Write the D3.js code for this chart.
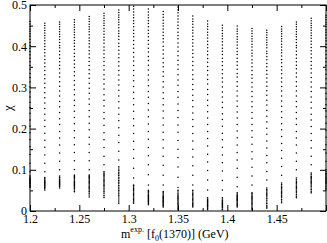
<!DOCTYPE html>
<html>
<head>
<meta charset="utf-8">
<script src="https://cdn.jsdelivr.net/npm/d3@7"></script>
<style>
  html, body { margin: 0; padding: 0; background: #fff; }
  svg { display: block; }
  text { font-family: "Liberation Serif", "DejaVu Serif", serif; fill: #000; }
</style>
</head>
<body>
<svg id="chart" width="327" height="243"></svg>
<script>
// mass grid of the scan (GeV)
var masses = [1.200, 1.215, 1.230, 1.245, 1.260, 1.275, 1.290, 1.305, 1.320, 1.335, 1.350,
              1.365, 1.380, 1.395, 1.410, 1.425, 1.440, 1.455, 1.470, 1.485, 1.500];

// chi values (x1000) of the spread-out points of every column
var sparseChi = [
  '95 116 137 156 173 190 206 221 237 251 264 277 289 301 313 324 334 344 353 362 371 379 387 395 402 409 417 424 430 436 442 448 454 460',
  '95 116 136 155 172 189 205 220 235 249 262 275 287 299 310 321 331 341 350 359 368 376 384 392 399 406 413 420 426 432 438 444 450 456',
  '100 121 141 160 177 193 210 224 239 253 266 279 291 303 314 325 335 345 354 362 371 379 388 396 402 409 416 423 429 435 441 447 453 459',
  '101 122 142 161 178 195 212 227 242 256 269 282 294 306 317 328 338 348 357 366 375 383 392 400 407 414 421 428 434 440 446 452 458 464',
  '100 122 142 162 179 197 213 229 244 259 272 286 298 310 322 333 343 353 363 372 381 389 398 406 413 420 428 435 441 447 453 460 466 472',
  '112 133 154 173 190 208 224 239 255 269 282 296 308 320 331 342 353 363 372 381 390 398 407 415 422 429 436 443 450 456 462 468 474 480',
  '124 145 166 184 202 219 235 250 265 279 293 306 318 330 341 352 362 372 381 390 399 407 416 424 431 437 445 452 458 464 470 476 482 488',
  '80 104 128 149 169 188 207 224 242 258 273 288 302 316 329 341 353 364 374 385 395 404 414 423 431 439 447 455 462 469 476 483 490 497',
  '63 88 112 134 154 174 193 211 229 245 261 276 290 304 318 330 342 354 365 375 386 395 405 414 423 431 439 447 455 462 469 476 483 490',
  '63 87 111 133 153 173 191 209 226 243 258 273 287 301 314 327 338 350 360 371 381 391 400 410 418 426 434 442 449 456 463 470 477 484',
  '57 82 107 130 150 171 191 209 227 244 260 276 290 305 318 331 344 355 366 377 388 398 408 418 426 434 443 451 459 466 473 481 488 495',
  '63 87 110 131 150 170 188 205 222 238 253 268 281 295 307 320 331 342 353 363 373 382 391 400 408 416 424 432 439 446 453 460 466 473',
  '51 75 98 119 138 158 176 193 210 226 241 256 269 283 295 308 319 330 341 351 361 370 379 388 396 404 412 420 427 434 441 448 454 461',
  '51 74 97 117 136 155 173 189 206 222 236 251 264 277 289 301 313 323 333 343 353 362 371 380 388 395 403 411 418 425 431 438 444 451',
  '59 82 104 124 142 160 178 194 210 226 240 254 267 279 291 303 314 325 334 344 354 362 371 380 387 395 403 410 417 423 430 436 442 449',
  '63 85 106 126 144 162 179 195 210 225 239 253 265 278 290 301 312 322 331 341 350 359 367 376 383 390 398 405 412 418 424 431 437 443',
  '75 96 117 135 153 170 186 201 216 230 244 257 269 281 292 303 313 323 332 341 350 358 367 375 382 388 396 403 409 415 421 427 433 439',
  '87 108 128 147 164 181 197 212 227 241 254 267 279 291 302 313 323 333 342 351 360 368 376 384 391 398 405 412 418 424 430 436 442 448',
  '100 121 141 160 177 193 210 224 239 253 266 279 291 303 314 325 335 345 354 362 371 379 388 396 402 409 416 423 429 435 441 447 453 459',
  '112 133 153 171 188 205 221 235 250 264 277 290 301 313 324 335 345 354 363 372 381 389 397 405 412 419 426 432 439 445 450 456 462 468',
  '120 141 161 179 196 213 229 243 258 272 285 298 309 321 332 343 353 362 371 380 389 397 405 413 420 427 434 440 447 453 458 464 470 475'
];

// chi values (x1000) of the dense bunch at the bottom of every column
var clusterChi = [
  '57 60 62 65 67 69 71 73 75 77 79 82 85',
  '51 54 57 59 61 63 65 67 69 71 73 75 78 81',
  '56 59 61 63 65 67 69 71 73 75 77 80 82 85',
  '47 51 54 57 60 62 64 66 68 70 72 75 78 81 84 87',
  '34 39 43 47 51 54 57 60 63 66 69 72 75 78 81 84 87',
  '33 38 43 47 51 55 59 62 65 68 71 74 77 80 83 86 89 92 95',
  '19 24 29 34 38 42 46 50 54 58 62 66 70 74 78 82 86 90 94 98 102 107',
  '19 22 25 28 31 34 37 40 43 46 49 52 55 58 61 63',
  '15 18 21 23 25 27 29 31 33 35 37 39 41 44 47 50',
  '10 13 16 19 21 23 25 27 29 31 33 35 38 41 44 47',
  '3 6 9 12 15 18 21 24 27 30 33 36 39 42 46 50',
  '10 13 16 19 22 25 28 31 34 37 40 43 46 50',
  '3 6 9 11 13 15 17 19 21 23 25 27 29 32',
  '3 5 8 10 12 14 16 18 20 22 24 26 29 32',
  '10 13 16 19 22 24 26 28 30 32 34 36 38 41 44',
  '3 6 9 12 15 18 21 24 27 30 33 36 39 42 44',
  '7 10 14 18 22 26 30 34 37 40 43 46 49 52 56',
  '20 24 28 32 36 39 42 45 48 51 54 57 60 64 68',
  '32 36 40 44 48 51 54 57 60 63 66 69 72 76 80',
  '44 48 52 56 60 63 66 69 72 75 78 81 84 88 92',
  '51 55 59 63 67 70 73 76 79 82 85 88 91 95 100'
];

var xMajor = [1.2, 1.25, 1.3, 1.35, 1.4, 1.45, 1.5],
  xMinor = [1.225, 1.275, 1.325, 1.375, 1.425, 1.475],
  xLabels = ['1.2', '1.25', '1.3', '1.35', '1.4', '1.45', ''],
  yMajor = [0, 0.1, 0.2, 0.3, 0.4, 0.5],
  yMinor = [0.05, 0.15, 0.25, 0.35, 0.45],
  yLabels = ['0', '0.1', '0.2', '0.3', '0.4', '0.5'];

var LEFT = 30, RIGHT = 326, TOP = 5, BOTTOM = 211,
  MAJOR = 6, MINOR = 3;

var svg = d3.select('#chart');

var x = d3.scaleLinear().domain([1.2, 1.5]).range([LEFT, RIGHT]);
var y = d3.scaleLinear().domain([0, 0.5]).range([BOTTOM, TOP]);

// turn the columns into points
var points = [];
masses.forEach(function(m, i) {
  sparseChi[i].split(' ').forEach(function(v) {
    points.push({ m: m, chi: +v / 1000, r: 0.75 });
  });
  clusterChi[i].split(' ').forEach(function(v) {
    points.push({ m: m, chi: +v / 1000, r: 0.8 });
  });
});

var plot = svg.append('g').attr('id', 'points');

plot.selectAll('circle')
  .data(points)
  .enter()
  .append('circle')
  .attr('cx', function(d) { return x(d.m); })
  .attr('cy', function(d) { return y(d.chi); })
  .attr('r', function(d) { return d.r; })
  .style('fill', '#000');

// ticks on all four sides, pointing inward
function styleAxis(g) {
  g.select('.domain').remove();
  g.selectAll('.tick line').attr('stroke', '#000').attr('stroke-width', 1);
  g.selectAll('.tick text')
    .style('font-size', '12px')
    .style('font-family', '"Liberation Serif", serif');
}

svg.append('g')
  .attr('transform', 'translate(0,' + BOTTOM + ')')
  .call(d3.axisBottom(x).tickValues(xMajor).tickSize(-MAJOR).tickSizeOuter(0).tickPadding(3)
    .tickFormat(function(d, i) { return xLabels[i]; }))
  .call(styleAxis);

svg.append('g')
  .attr('transform', 'translate(0,' + BOTTOM + ')')
  .call(d3.axisBottom(x).tickValues(xMinor).tickSize(-MINOR).tickFormat(''))
  .call(styleAxis);

svg.append('g')
  .attr('transform', 'translate(0,' + TOP + ')')
  .call(d3.axisTop(x).tickValues(xMajor).tickSize(-MAJOR).tickFormat(''))
  .call(styleAxis);

svg.append('g')
  .attr('transform', 'translate(0,' + TOP + ')')
  .call(d3.axisTop(x).tickValues(xMinor).tickSize(-MINOR).tickFormat(''))
  .call(styleAxis);

svg.append('g')
  .attr('transform', 'translate(' + LEFT + ',0)')
  .call(d3.axisLeft(y).tickValues(yMajor).tickSize(-MAJOR).tickPadding(3)
    .tickFormat(function(d, i) { return yLabels[i]; }))
  .call(styleAxis);

svg.append('g')
  .attr('transform', 'translate(' + LEFT + ',0)')
  .call(d3.axisLeft(y).tickValues(yMinor).tickSize(-MINOR).tickFormat(''))
  .call(styleAxis);

svg.append('g')
  .attr('transform', 'translate(' + RIGHT + ',0)')
  .call(d3.axisRight(y).tickValues(yMajor).tickSize(-MAJOR).tickFormat(''))
  .call(styleAxis);

svg.append('g')
  .attr('transform', 'translate(' + RIGHT + ',0)')
  .call(d3.axisRight(y).tickValues(yMinor).tickSize(-MINOR).tickFormat(''))
  .call(styleAxis);

// frame
svg.append('rect')
  .attr('x', LEFT)
  .attr('y', TOP)
  .attr('width', RIGHT - LEFT)
  .attr('height', BOTTOM - TOP)
  .style('fill', 'none')
  .attr('stroke', '#000')
  .attr('stroke-width', 1);

// axis titles
var xt = svg.append('text')
  .attr('x', 121)
  .attr('y', 238)
  .style('font-size', '12px');
xt.append('tspan').text('m');
xt.append('tspan').attr('dy', -6).style('font-size', '8px').text('exp.');
xt.append('tspan').attr('dy', 6).text(' [f');
xt.append('tspan').attr('dy', 3).style('font-size', '8px').text('0');
xt.append('tspan').attr('dy', -3).text('(1370)] (GeV)');

svg.append('text')
  .attr('transform', 'translate(12,108) rotate(-90)')
  .style('text-anchor', 'middle')
  .style('font-size', '13px')
  .text('χ');
</script>
</body>
</html>
